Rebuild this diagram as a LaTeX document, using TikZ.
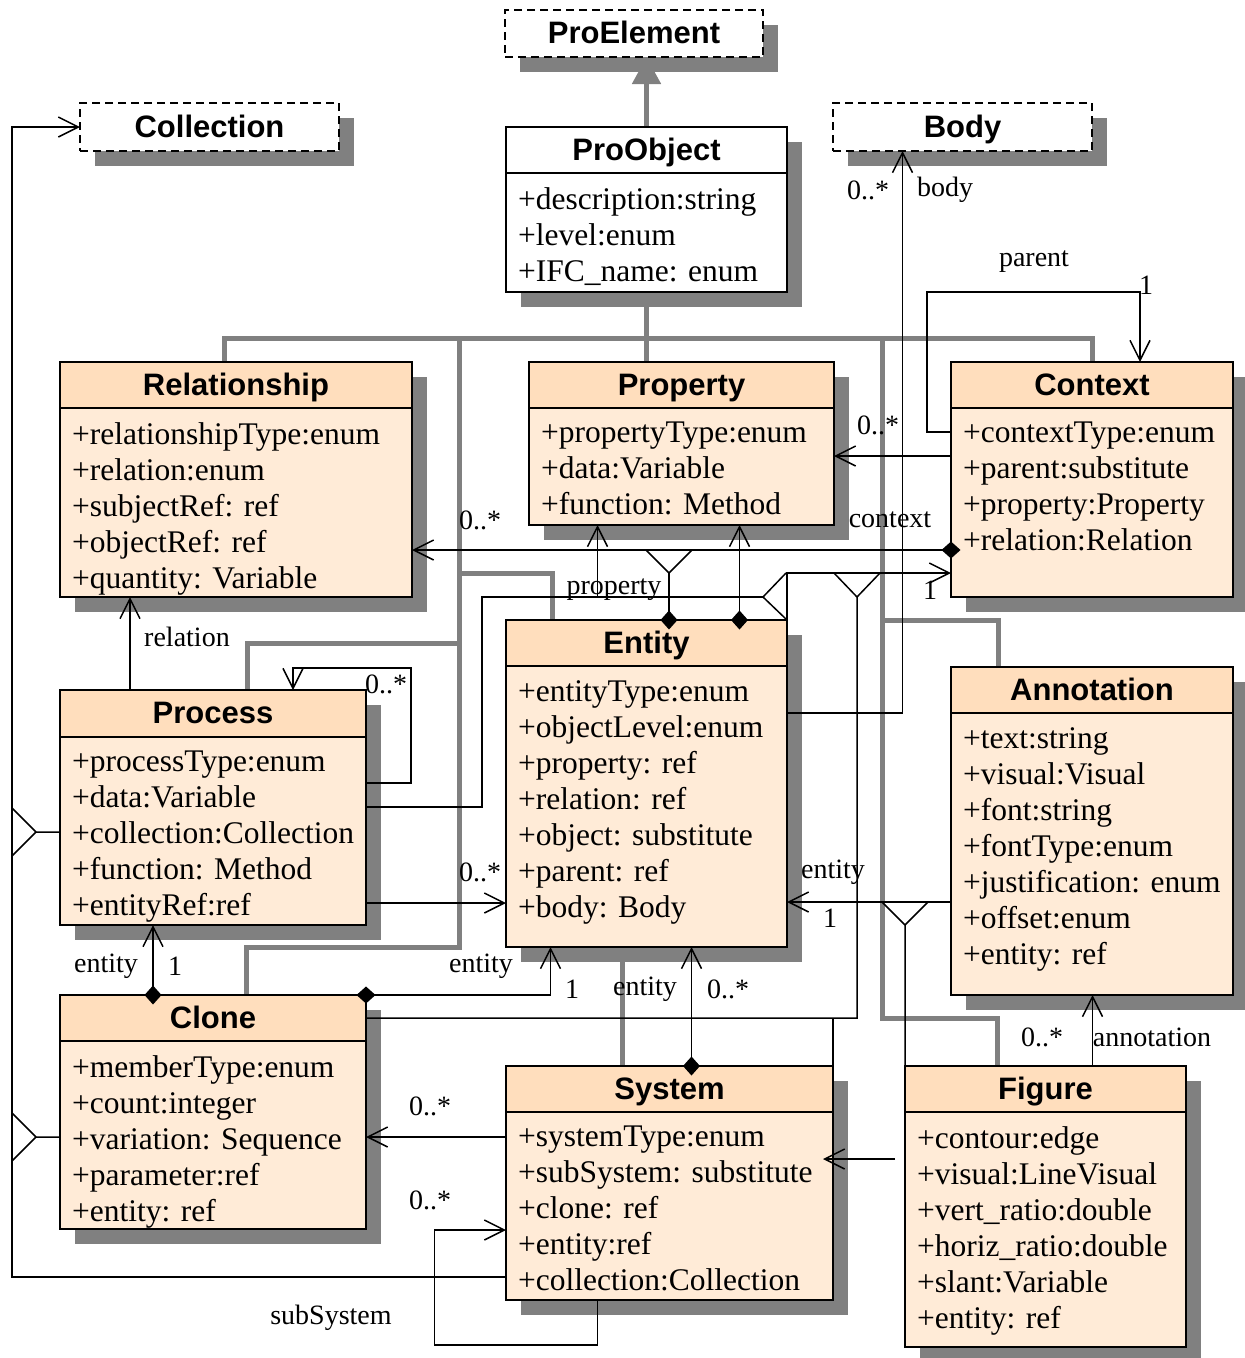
\documentclass[tikz,border=0pt]{standalone}
\usepackage{fontspec}
\setmainfont{Liberation Serif}
\setsansfont{Liberation Sans}
\usepackage{tikz}
\usetikzlibrary{arrows.meta,shadows,backgrounds}
\definecolor{hdrfill}{RGB}{255,222,189}
\definecolor{attfill}{RGB}{255,235,215}
\definecolor{shadowgray}{RGB}{128,128,128}

\begin{document}
\begin{tikzpicture}[x=1pt,y=-1pt,
 box/.style={draw,line width=1.5pt,anchor=north west,inner sep=0pt,outer sep=0pt,
  drop shadow={shadow xshift=15pt,shadow yshift=-15pt,fill=shadowgray,opacity=1}},
 hdr/.style={box,fill=hdrfill,font=\sffamily\bfseries\fontsize{31}{31}\selectfont,text height=22pt,text depth=2pt},
 hdrw/.style={hdr,fill=white},
 ghost/.style={hdr,fill=white,dash pattern=on 8pt off 5pt},
 att/.style={box,fill=attfill},
 attw/.style={box,fill=white},
 atts/.style={anchor=north west,align=left,inner xsep=12pt,inner ysep=14pt,font=\fontsize{31.5}{36}\selectfont},
 gen/.style={draw=shadowgray,line width=5pt},
 genarr/.style={gen,-{Triangle[length=27pt,width=28pt]}},
 assoc/.style={line width=1.5pt},
 nav/.style={assoc,-{Straight Barb[length=20pt,width=20pt]}},
 owner/.style={assoc,{Diamond[length=19pt,width=17pt]}-,shorten <=-9.5pt},
 comp/.style={assoc,{Diamond[length=19pt,width=17pt]}-{Straight Barb[length=20pt,width=20pt]},shorten <=-9.5pt},
 lbl/.style={font=\fontsize{28}{28}\selectfont,inner sep=0pt}]
\useasboundingbox (0,0) rectangle (1245,1358);

\node[ghost,minimum width=258pt,minimum height=47pt] (proelem) at (505,10) {ProElement};
\node[ghost,minimum width=259pt,minimum height=48pt] (coll) at (80,103) {Collection};
\node[ghost,minimum width=259pt,minimum height=48pt] (body) at (833,103) {Body};

\node[hdrw,minimum width=281pt,minimum height=46pt] (proobj) at (506,127) {ProObject};
\node[attw,minimum width=281pt,minimum height=119pt] (proobj-a) at (506,173) {};
\node[atts] (proobj-t) at (proobj-a.north west) {+description:string\\+level:enum\\+IFC\_name: enum};

\node[hdr,minimum width=352pt,minimum height=46pt] (rel) at (60,362) {Relationship};
\node[att,minimum width=352pt,minimum height=189pt] (rel-a) at (60,408) {};
\node[atts] (rel-t) at (rel-a.north west) {+relationshipType:enum\\+relation:enum\\+subjectRef: ref\\+objectRef: ref\\+quantity: Variable};

\node[hdr,minimum width=305pt,minimum height=46pt] (prop) at (529,362) {Property};
\node[att,minimum width=305pt,minimum height=117pt] (prop-a) at (529,408) {};
\node[atts] (prop-t) at (prop-a.north west) {+propertyType:enum\\+data:Variable\\+function: Method};

\node[hdr,minimum width=282pt,minimum height=46pt] (ctx) at (951,362) {Context};
\node[att,minimum width=282pt,minimum height=189pt] (ctx-a) at (951,408) {};
\node[atts] (ctx-t) at (ctx-a.north west) {+contextType:enum\\+parent:substitute\\+property:Property\\+relation:Relation};

\node[hdr,minimum width=306pt,minimum height=47pt] (proc) at (60,690) {Process};
\node[att,minimum width=306pt,minimum height=188pt] (proc-a) at (60,737) {};
\node[atts] (proc-t) at (proc-a.north west) {+processType:enum\\+data:Variable\\+collection:Collection\\+function: Method\\+entityRef:ref};

\node[hdr,minimum width=281pt,minimum height=46pt] (ent) at (506,620) {Entity};
\node[att,minimum width=281pt,minimum height=281pt] (ent-a) at (506,666) {};
\node[atts] (ent-t) at (ent-a.north west) {+entityType:enum\\+objectLevel:enum\\+property: ref\\+relation: ref\\+object: substitute\\+parent: ref\\+body: Body};

\node[hdr,minimum width=282pt,minimum height=46pt] (ann) at (951,667) {Annotation};
\node[att,minimum width=282pt,minimum height=282pt] (ann-a) at (951,713) {};
\node[atts] (ann-t) at (ann-a.north west) {+text:string\\+visual:Visual\\+font:string\\+fontType:enum\\+justification: enum\\+offset:enum\\+entity: ref};

\node[hdr,minimum width=306pt,minimum height=46pt] (clone) at (60,995) {Clone};
\node[att,minimum width=306pt,minimum height=188pt] (clone-a) at (60,1041) {};
\node[atts] (clone-t) at (clone-a.north west) {+memberType:enum\\+count:integer\\+variation: Sequence\\+parameter:ref\\+entity: ref};

\node[hdr,minimum width=327pt,minimum height=46pt] (sys) at (506,1066) {System};
\node[att,minimum width=327pt,minimum height=188pt] (sys-a) at (506,1112) {};
\node[atts] (sys-t) at (sys-a.north west) {+systemType:enum\\+subSystem: substitute\\+clone: ref\\+entity:ref\\+collection:Collection};

\node[hdr,minimum width=281pt,minimum height=46pt] (fig) at (905,1066) {Figure};
\node[att,minimum width=281pt,minimum height=235pt] (fig-a) at (905,1112) {};
\node[atts] (fig-t) at (fig-a.north west) {+contour:edge\\+visual:LineVisual\\+vert\_ratio:double\\+horiz\_ratio:double\\+slant:Variable\\+entity: ref};

\coordinate (spineL) at (459,338);
\coordinate (spineR) at (882,338);
\coordinate (jR) at (669,550);
\coordinate (jP) at (763,597);
\coordinate (jC) at (857,573);
\coordinate (jA) at (905,902);
\coordinate (bus) at (12,832);

\begin{scope}[on background layer]
\draw[genarr] (proobj.north) -- (proobj.north |- proelem.south);
\draw[gen] ([xshift=-12pt]rel.north) |- (ctx.north |- spineL) -- (ctx.north);
\draw[genarr] (prop.north -| proobj.south) -- (proobj.south);
\draw[gen] ([xshift=34pt]proc.north) -- ++(0,-47) -| (spineL);
\draw[gen] ([xshift=33pt]clone.north) -- ++(0,-48) -| (spineL);
\draw[gen] ([xshift=-94pt]ent.north) -- ++(0,-47) -| (spineL);
\draw[gen] ([xshift=-47pt]sys.north) -- ([xshift=-47pt]sys.north |- ent-a.south);
\draw[gen] ([xshift=-94pt]ann.north) -- ++(0,-47) -| (spineR);
\draw[gen] ([xshift=-48pt]fig.north) -- ++(0,-48) -| (spineR);
\end{scope}

\draw[nav] ([yshift=-165pt]sys-a.north west) -| (bus) |- (coll.west);
\draw[assoc] ([yshift=-95pt]proc-a.north west) -- ++(-24,0) -- ++(-24,-24) ++(0,48) -- ++(24,-24);
\draw[assoc] ([yshift=-96pt]clone-a.north west) -- ++(-24,0) -- ++(-24,-24) ++(0,48) -- ++(24,-24);
\draw[nav] ([xshift=-83pt]proc.north) -- ([xshift=-83pt]proc.north |- rel-a.south);
\draw[nav] ([yshift=-46pt]proc-a.north east) -- ++(45,0) |- ([xshift=80pt,yshift=22pt]proc.north) -- ([xshift=80pt]proc.north);
\draw[assoc] ([yshift=-70pt]proc-a.north east) -- ++(116,0) |- (jP);
\draw[nav] (ent.north east) -- ++(0,-47) -- (ctx-a.west |- jC);
\draw[assoc] (ent.north east) -- (jP) -- ++(23,-24);
\draw[nav] ([xshift=-84pt]prop-a.south |- jP) -- ([xshift=-84pt]prop-a.south);
\draw[comp] (ctx-a.west |- jR) -- (rel-a.east |- jR);
\draw[owner] (ent.north -| jR) -- ([yshift=-23pt]jR);
\draw[assoc] ([yshift=-23pt]jR) -- ++(-23,-23) ++(46,0) -- ++(-23,23);
\draw[comp] ([xshift=93pt]ent.north) -- ([xshift=93pt]ent.north |- prop-a.south);
\draw[nav] ([yshift=-24pt]ctx-a.north west) -- ++(-24,0) |- ([xshift=48pt,yshift=70pt]ctx.north) -- ([xshift=48pt]ctx.north);
\draw[nav] ([yshift=-48pt]ctx-a.north west) -- ([yshift=-48pt]prop-a.north east);
\draw[nav] ([yshift=-47pt]ent-a.north east) -| ([xshift=-60pt]body.south);
\draw[nav] ([yshift=-166pt]proc-a.north east) -- ([yshift=-237pt]ent-a.north west);
\draw[comp] ([xshift=-60pt]clone.north) -- ([xshift=-60pt]proc-a.south);
\draw[comp] (clone.north east) -| ([xshift=-96pt]ent-a.south);
\draw[comp] ([xshift=22pt]sys.north) -- ([xshift=22pt]sys.north |- ent-a.south);
\draw[assoc] ([yshift=23pt]clone.south east) -| ([yshift=-24pt]jC) -- ++(-23,-24) ++(46,0) -- ++(-23,24);
\draw[assoc] (sys.north east) -- ++(0,-48);
\draw[nav] (ann-a.west |- jA) -- (ent-a.east |- jA);
\draw[assoc] (fig.north west) -- ([yshift=-23pt]jA) -- ++(-23,-23) ++(46,0) -- ++(-23,23);
\draw[nav] ([yshift=-25pt]sys-a.north west) -- ([yshift=-96pt]clone-a.north east);
\draw[nav] ([xshift=-72pt]sys-a.south) -- ++(0,45) -| ++(-163,-115) -- ([yshift=-118pt]sys-a.north west);
\draw[nav] ([xshift=-10pt,yshift=-47pt]fig-a.north west) -- ([xshift=-10pt,yshift=-47pt]sys-a.north east);
\draw[nav] ([xshift=47pt]fig.north) -- ([xshift=47pt]fig.north |- ann-a.south);

\node[lbl] (m-body) at (868,190) {0..*};
\node[lbl] (r-body) at (945,190) {body};
\node[lbl] (r-parent) at (1034,262) {parent};
\node[lbl] (m-parent) at (1146,285) {1};
\node[lbl] (m-prop) at (878,425) {0..*};
\node[lbl] (m-rel) at (480,520) {0..*};
\node[lbl] (r-ctx) at (890,520) {context};
\node[lbl] (r-prop) at (614,590) {property};
\node[lbl] (m-ctx) at (930,590) {1};
\node[lbl] (r-rel) at (187,637) {relation};
\node[lbl] (m-loop) at (386,684) {0..*};
\node[lbl] (m-ent) at (480,872) {0..*};
\node[lbl] (r-annent) at (833,872) {entity};
\node[lbl] (m-annent) at (830,918) {1};
\node[lbl] (r-clproc) at (106,966) {entity};
\node[lbl] (m-clproc) at (175,966) {1};
\node[lbl] (r-clent) at (481,966) {entity};
\node[lbl] (m-clent) at (572,989) {1};
\node[lbl] (r-sysent) at (645,989) {entity};
\node[lbl] (m-sysent) at (728,989) {0..*};
\node[lbl] (m-ann) at (1042,1037) {0..*};
\node[lbl] (r-ann) at (1152,1037) {annotation};
\node[lbl] (m-clone) at (430,1106) {0..*};
\node[lbl] (m-sub) at (430,1200) {0..*};
\node[lbl] (r-sub) at (331,1318) {subSystem};
\end{tikzpicture}
\end{document}
